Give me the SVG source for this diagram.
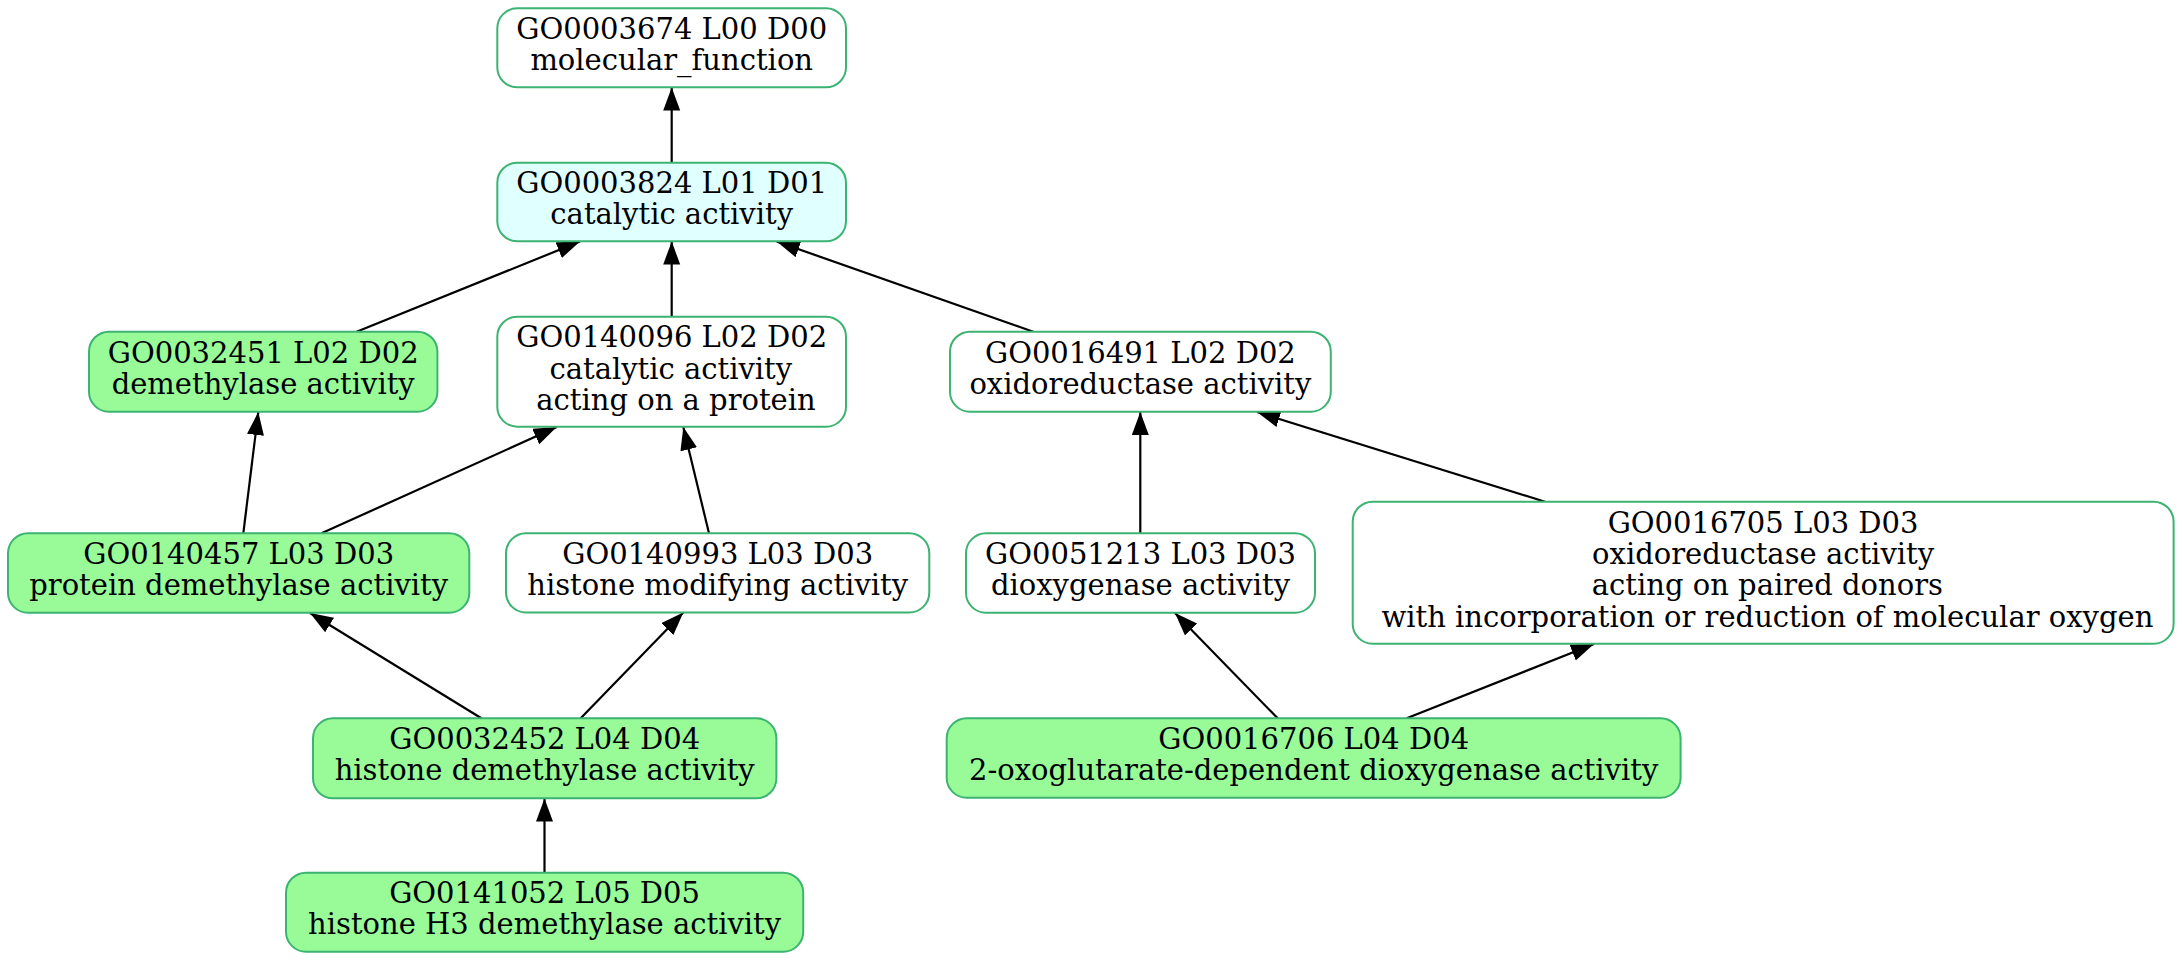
<svg xmlns="http://www.w3.org/2000/svg" width="2182" height="960" viewBox="0 0 2182 960">
<style>
.n rect{stroke:#3cb371;stroke-width:2}
.w{fill:#ffffff}
.g{fill:#98fb98}
.c{fill:#e0ffff}
text{font-family:"DejaVu Serif","Liberation Serif",serif;font-size:29px;fill:#000;text-anchor:middle}
.e line{stroke:#000;stroke-width:2.2;fill:none}
</style>
<defs>
<marker id="ah" markerUnits="userSpaceOnUse" markerWidth="24" markerHeight="18" viewBox="0 0 24 18" refX="23" refY="8.5" orient="auto">
<path d="M0,0 L23,8.5 L0,17 z" fill="#000"/>
</marker>
</defs>
<rect width="2182" height="960" fill="#fff"/>
<g id="edges" class="e">
<line x1="671.7" y1="162" x2="671.7" y2="87.5" marker-end="url(#ah)"/>
<line x1="671.7" y1="316.7" x2="671.7" y2="241.5" marker-end="url(#ah)"/>
<line x1="356.6" y1="331.7" x2="580" y2="241.5" marker-end="url(#ah)"/>
<line x1="1033.3" y1="331.7" x2="776.7" y2="241.5" marker-end="url(#ah)"/>
<line x1="243.3" y1="533.3" x2="258.3" y2="412" marker-end="url(#ah)"/>
<line x1="321.5" y1="533.3" x2="556.7" y2="427" marker-end="url(#ah)"/>
<line x1="709" y1="533.3" x2="683.3" y2="427" marker-end="url(#ah)"/>
<line x1="1140.3" y1="533.3" x2="1140.3" y2="412" marker-end="url(#ah)"/>
<line x1="1545" y1="501.7" x2="1257" y2="412" marker-end="url(#ah)"/>
<line x1="481.4" y1="718.3" x2="310" y2="613" marker-end="url(#ah)"/>
<line x1="580.7" y1="718.3" x2="683.3" y2="612.5" marker-end="url(#ah)"/>
<line x1="1277.7" y1="718.3" x2="1175" y2="613" marker-end="url(#ah)"/>
<line x1="1406.7" y1="718.3" x2="1594" y2="644" marker-end="url(#ah)"/>
<line x1="544.5" y1="872.7" x2="544.5" y2="798.5" marker-end="url(#ah)"/>
</g>
<g id="GO0003674" class="n">
<rect class="w" x="497.3" y="8.3" width="348.7" height="79" rx="20"/>
<text x="671.7" y="38.8">GO0003674 L00 D00</text>
<text x="671.7" y="69.8">molecular_function</text>
</g>
<g id="GO0003824" class="n">
<rect class="c" x="497.3" y="162.7" width="348.7" height="78.6" rx="20"/>
<text x="671.7" y="193">GO0003824 L01 D01</text>
<text x="671.7" y="224">catalytic activity</text>
</g>
<g id="GO0032451" class="n">
<rect class="g" x="89" y="331.7" width="348.4" height="80" rx="20"/>
<text x="263.2" y="362.5">GO0032451 L02 D02</text>
<text x="263.2" y="393.5">demethylase activity</text>
</g>
<g id="GO0140096" class="n">
<rect class="w" x="497.3" y="316.7" width="348.7" height="110" rx="20"/>
<text x="671.7" y="346.7">GO0140096 L02 D02</text>
<text x="670.8" y="379">catalytic activity</text>
<text x="676" y="410">acting on a protein</text>
</g>
<g id="GO0016491" class="n">
<rect class="w" x="950" y="331.7" width="380.8" height="80" rx="20"/>
<text x="1140.4" y="362.5">GO0016491 L02 D02</text>
<text x="1140.4" y="393.5">oxidoreductase activity</text>
</g>
<g id="GO0140457" class="n">
<rect class="g" x="8" y="533.3" width="461.3" height="79.4" rx="20"/>
<text x="238.7" y="563.5">GO0140457 L03 D03</text>
<text x="238.7" y="594.5">protein demethylase activity</text>
</g>
<g id="GO0140993" class="n">
<rect class="w" x="506" y="533.3" width="423.3" height="79.2" rx="20"/>
<text x="717.7" y="563.5">GO0140993 L03 D03</text>
<text x="717.7" y="594.5">histone modifying activity</text>
</g>
<g id="GO0051213" class="n">
<rect class="w" x="966" y="533.3" width="349" height="79.4" rx="20"/>
<text x="1140.5" y="563.5">GO0051213 L03 D03</text>
<text x="1140.5" y="594.5">dioxygenase activity</text>
</g>
<g id="GO0016705" class="n">
<rect class="w" x="1352.7" y="501.7" width="820.9" height="142" rx="20"/>
<text x="1763.1" y="533.3">GO0016705 L03 D03</text>
<text x="1763.1" y="563.8">oxidoreductase activity</text>
<text x="1767.4" y="595">acting on paired donors</text>
<text x="1767.4" y="626.7">with incorporation or reduction of molecular oxygen</text>
</g>
<g id="GO0032452" class="n">
<rect class="g" x="313" y="718.3" width="463.4" height="80" rx="20"/>
<text x="544.7" y="749">GO0032452 L04 D04</text>
<text x="544.7" y="780">histone demethylase activity</text>
</g>
<g id="GO0016706" class="n">
<rect class="g" x="946.7" y="718.3" width="733.9" height="79.4" rx="20"/>
<text x="1313.7" y="749">GO0016706 L04 D04</text>
<text x="1313.7" y="780">2-oxoglutarate-dependent dioxygenase activity</text>
</g>
<g id="GO0141052" class="n">
<rect class="g" x="286" y="872.7" width="517.2" height="79" rx="20"/>
<text x="544.6" y="903">GO0141052 L05 D05</text>
<text x="544.6" y="934">histone H3 demethylase activity</text>
</g>
</svg>
